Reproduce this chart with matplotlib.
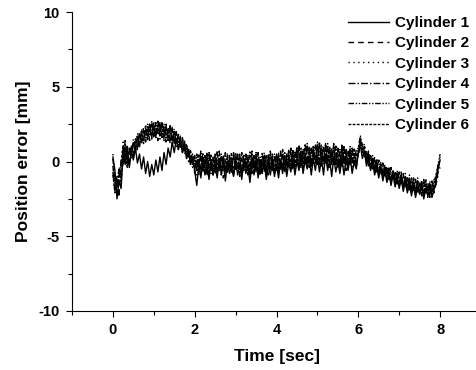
import numpy as np
import matplotlib
matplotlib.use('Agg')
import matplotlib.pyplot as plt
from matplotlib.ticker import MultipleLocator

plt.rcParams['font.family'] = 'Liberation Sans'
plt.rcParams['font.weight'] = 'bold'
plt.rcParams['axes.unicode_minus'] = False

cyl1 = [0.3, -0.6, -2.5, -1.3, -1.8, 0.6, -0.2, 0.9, -0.4, 0.7, 0.1, 0.9, -0.1, 0.5, -0.5, 0.3, -0.8, 0.0, -1.0, -0.2,
        -0.9, 0.1, -0.7, 0.3, -0.6, 0.6, -0.2, 0.9, 0.3, 1.3, 0.6, 1.5, 0.8, 1.4, 0.6, 1.1, 0.2, 0.7, -0.2, 0.2,
        -0.6, -1.6, -0.3, -1.1, 0.0, -0.9, -0.2, -1.2, 0.1, -0.8, -0.3, -1.1, 0.2, -0.9, -0.1, -1.3, 0.0, -0.8, -0.4, -1.0,
        0.1, -0.9, -0.2, -1.2, 0.0, -0.8, -0.3, -1.4, -0.1, -0.9, 0.2, -1.1, -0.2, -0.8, 0.0, -1.2, -0.3, -0.9, 0.1, -1.0,
        -0.2, -1.1, 0.0, -0.8, 0.2, -1.0, -0.1, -0.7, 0.3, -0.9, 0.0, -0.6, 0.4, -0.8, 0.1, -0.5, 0.3, -0.9, 0.2, -0.6,
        0.4, -0.7, 0.2, -0.9, 0.5, -0.6, 0.1, -1.0, 0.3, -0.7, 0.0, -0.8, 0.2, -0.9, 0.1, -0.6, 0.3, -0.8, 0.0, -0.5,
        0.6, 1.1, 0.2, 0.7, -0.3, 0.3, -0.6, 0.0, -0.9, -0.3, -1.1, -0.4, -1.3, -0.6, -1.4, -0.8, -1.6, -0.9, -1.7, -1.1,
        -1.8, -1.2, -2.0, -1.3, -2.1, -1.5, -2.3, -1.6, -2.4, -1.7, -2.2, -1.6, -2.5, -1.8, -2.3, -1.7, -2.4, -1.9, -1.4, -0.5,
        0.1]
cyl2 = [-0.3, -1.8, -1.0, -2.4, 0.2, -0.4, 1.4, 0.3, -0.2, 1.1, 0.4, 1.6, 0.9, 2.0, 1.2, 2.3, 1.3, 2.4, 1.4, 2.5,
        1.5, 2.6, 1.4, 2.5, 1.6, 2.4, 1.3, 2.3, 1.2, 2.2, 1.1, 2.0, 0.8, 1.7, 0.6, 1.3, 0.2, 0.8, -0.3, 0.3,
        -0.8, 0.2, -0.9, 0.5, -0.6, 0.3, -1.0, 0.4, -0.7, 0.2, -0.9, 0.6, -0.5, 0.3, -1.1, 0.1, -0.7, 0.4, -0.8, 0.5,
        -0.7, 0.3, -1.0, 0.2, -0.6, 0.5, -0.9, 0.1, -0.8, 0.4, -0.5, 0.6, -1.0, 0.2, -0.7, 0.3, -0.9, 0.5, -0.6, 0.2,
        -0.7, 0.4, -0.5, 0.6, -0.8, 0.3, -0.4, 0.8, -0.6, 0.5, -0.3, 0.9, -0.5, 0.7, -0.2, 1.1, -0.4, 0.8, -0.1, 1.0,
        -0.2, 1.2, -0.3, 0.9, -0.1, 1.1, -0.4, 0.8, -0.2, 1.0, -0.5, 0.7, -0.3, 0.9, -0.6, 0.6, -0.2, 0.8, -0.4, 0.5,
        0.3, 1.3, 0.9, 0.2, 0.8, -0.3, 0.5, -0.5, 0.3, -0.7, 0.1, -0.9, -0.1, -1.0, -0.3, -1.2, -0.4, -1.3, -0.6, -1.5,
        -0.7, -1.6, -0.8, -1.8, -1.0, -1.9, -1.1, -2.0, -1.2, -2.1, -1.3, -2.3, -1.2, -2.2, -1.4, -2.4, -1.3, -2.1, -1.5, -0.7,
        -0.4]
cyl3 = [0.5, -1.2, -2.2, -1.0, -0.3, 1.3, 0.4, -0.5, 0.9, 0.2, 1.5, 0.8, 1.9, 1.1, 2.2, 1.4, 2.5, 1.6, 2.6, 1.5,
        2.7, 1.6, 2.5, 1.5, 2.6, 1.4, 2.4, 1.3, 2.3, 1.2, 2.2, 1.0, 1.9, 0.9, 1.5, 0.5, 1.1, 0.0, 0.6, -0.4,
        0.3, -0.9, 0.4, -0.7, 0.2, -0.8, 0.5, -0.6, 0.1, -0.9, 0.4, -0.5, 0.3, -1.0, 0.2, -0.6, 0.6, -0.7, 0.1, -0.8,
        0.4, -0.6, 0.2, -0.9, 0.5, -0.5, 0.1, -0.8, 0.3, -0.7, 0.6, -0.6, 0.2, -0.9, 0.4, -0.5, 0.3, -0.7, 0.5, -0.6,
        0.3, -0.8, 0.6, -0.4, 0.2, -0.7, 0.7, -0.3, 0.5, -0.6, 0.9, -0.2, 0.6, -0.5, 1.0, -0.1, 0.7, -0.4, 1.1, 0.0,
        0.8, -0.3, 1.2, -0.1, 0.9, -0.4, 1.0, -0.2, 0.7, -0.5, 0.9, -0.3, 0.8, -0.4, 0.6, -0.2, 0.9, -0.5, 0.5, -0.1,
        0.9, 1.6, 0.7, 1.2, 0.0, 0.7, -0.4, 0.4, -0.6, 0.2, -0.8, 0.0, -0.9, -0.2, -1.1, -0.3, -1.2, -0.5, -1.4, -0.6,
        -1.5, -0.7, -1.7, -0.8, -1.8, -0.9, -2.0, -1.0, -2.1, -1.1, -2.2, -1.2, -2.3, -1.1, -2.2, -1.3, -2.4, -1.2, -1.6, -0.9,
        0.4]
cyl4 = [-0.7, -2.0, -1.3, -0.5, -1.1, 0.9, 0.0, 1.1, -0.3, 0.6, 1.3, 0.7, 1.7, 1.0, 2.1, 1.3, 2.3, 1.5, 2.5, 1.7,
        2.4, 1.6, 2.7, 1.7, 2.5, 1.5, 2.3, 1.6, 2.4, 1.3, 2.1, 1.2, 1.8, 1.0, 1.6, 0.7, 1.2, 0.3, 0.8, -0.1,
        0.4, -0.7, 0.1, -0.5, 0.6, -0.8, 0.3, -0.4, 0.5, -0.9, 0.2, -0.6, 0.7, -0.5, 0.3, -0.8, 0.4, -0.3, 0.2, -0.9,
        0.6, -0.4, 0.3, -0.7, 0.5, -0.3, 0.2, -0.9, 0.7, -0.5, 0.4, -0.8, 0.3, -0.4, 0.6, -0.7, 0.2, -0.5, 0.5, -0.8,
        0.4, -0.5, 0.7, -0.6, 0.3, -0.2, 0.8, -0.5, 0.6, -0.1, 1.0, -0.4, 0.7, 0.0, 1.2, -0.3, 0.8, -0.1, 1.0, -0.2,
        1.3, 0.0, 0.9, -0.2, 1.1, 0.1, 0.8, -0.3, 1.2, -0.1, 0.9, -0.4, 1.0, -0.2, 0.7, -0.3, 1.0, -0.1, 0.6, -0.4,
        0.5, 1.4, 0.8, 1.0, 0.1, 0.5, -0.3, 0.3, -0.5, 0.0, -0.7, -0.2, -0.8, -0.4, -1.0, -0.5, -1.2, -0.7, -1.3, -0.8,
        -1.4, -0.9, -1.6, -1.0, -1.7, -1.2, -1.9, -1.1, -2.0, -1.3, -2.1, -1.4, -2.2, -1.5, -2.1, -1.4, -2.3, -1.6, -1.1, -0.4,
        0.2]
cyl5 = [0.2, -1.5, -2.0, -0.7, -1.4, 0.4, 1.2, -0.1, 0.5, 1.0, 0.3, 1.5, 0.8, 1.8, 1.3, 2.1, 1.5, 2.5, 1.8, 2.7,
        1.7, 2.5, 1.8, 2.6, 1.6, 2.5, 1.5, 2.2, 1.4, 2.3, 1.2, 2.0, 1.1, 1.6, 0.8, 1.4, 0.4, 0.9, 0.1, 0.5,
        -0.5, 0.5, -0.4, 0.7, -0.7, 0.4, -0.3, 0.6, -0.8, 0.3, -0.4, 0.7, -0.6, 0.5, -0.2, 0.6, -0.7, 0.3, -0.5, 0.6,
        -0.4, 0.5, -0.8, 0.6, -0.3, 0.4, -0.6, 0.7, -0.2, 0.3, -0.7, 0.5, -0.4, 0.6, -0.5, 0.4, -0.3, 0.7, -0.6, 0.5,
        -0.2, 0.6, -0.5, 0.8, -0.3, 0.5, -0.1, 0.9, -0.4, 0.7, 0.0, 1.1, -0.2, 0.8, 0.1, 1.2, -0.1, 0.9, 0.2, 1.1,
        0.0, 1.3, 0.2, 1.0, -0.1, 1.2, 0.1, 0.9, -0.2, 1.1, 0.0, 0.8, -0.3, 1.0, 0.1, 0.7, -0.1, 0.9, -0.2, 0.8,
        0.9, 1.7, 1.1, 0.5, 0.6, 0.0, 0.4, -0.2, 0.2, -0.4, 0.0, -0.6, -0.2, -0.7, -0.4, -0.9, -0.5, -1.0, -0.7, -1.2,
        -0.8, -1.3, -1.0, -1.5, -1.1, -1.6, -1.3, -1.8, -1.4, -1.9, -1.5, -2.0, -1.4, -2.1, -1.6, -2.2, -1.5, -1.9, -1.2, -0.2,
        0.5]
cyl6 = [-0.9, -2.1, -1.6, -0.8, -0.1, 1.1, 0.6, -0.3, 0.8, 0.4, 1.2, 0.6, 1.6, 1.0, 1.9, 1.2, 2.2, 1.4, 2.4, 1.6,
        2.5, 1.7, 2.4, 1.8, 2.6, 1.6, 2.5, 1.4, 2.2, 1.5, 1.9, 1.3, 1.7, 1.0, 1.3, 0.8, 0.9, 0.3, 0.4, -0.2,
        0.1, -0.6, 0.5, -0.9, 0.2, -0.4, 0.6, -0.8, 0.0, -0.5, 0.5, -0.9, 0.1, -0.6, 0.4, -0.7, 0.2, -0.5, 0.6, -0.8,
        0.2, -0.5, 0.5, -0.8, 0.0, -0.6, 0.4, -0.9, 0.2, -0.4, 0.5, -0.7, 0.1, -0.6, 0.3, -0.8, 0.5, -0.4, 0.2, -0.7,
        0.5, -0.6, 0.1, -0.3, 0.6, -0.7, 0.4, -0.2, 0.8, -0.5, 0.5, -0.3, 0.9, -0.4, 0.6, -0.2, 1.0, -0.3, 0.7, 0.1,
        1.1, -0.2, 0.8, 0.0, 1.2, -0.3, 0.9, 0.1, 1.0, -0.2, 0.7, -0.4, 1.1, -0.1, 0.8, -0.3, 0.6, 0.0, 0.9, -0.2,
        0.7, 1.5, 0.6, 0.9, -0.1, 0.6, -0.5, 0.2, -0.7, 0.1, -0.9, -0.1, -1.0, -0.3, -1.2, -0.4, -1.3, -0.6, -1.5, -0.7,
        -1.6, -0.8, -1.7, -1.0, -1.9, -1.1, -2.0, -1.2, -2.2, -1.3, -2.1, -1.4, -2.3, -1.3, -2.4, -1.5, -2.2, -1.4, -0.9, -0.3,
        -0.2]

series = [cyl1, cyl2, cyl3, cyl4, cyl5, cyl6]
labels = ['Cylinder 1', 'Cylinder 2', 'Cylinder 3', 'Cylinder 4', 'Cylinder 5', 'Cylinder 6']
styles = ['-', (0, (4, 3)), (0, (1, 2.5)), (0, (5, 1.5, 1, 1.5)),
          (0, (4, 1.2, 1, 1.2, 1, 1.2)), (0, (2, 1))]

fig = plt.figure(figsize=(4.76, 3.70), dpi=100)
ax = fig.add_axes([72 / 476, 59 / 370, 409 / 476, 299 / 370])

for y, lab, ls in zip(series, labels, styles):
    t = np.linspace(0, 8, len(y))
    ax.plot(t, y, color='black', linestyle=ls, linewidth=1.0, label=lab)

ax.set_xlim(-1, 9)
ax.set_ylim(-10, 10)
ax.xaxis.set_major_locator(MultipleLocator(2))
ax.xaxis.set_minor_locator(MultipleLocator(1))
ax.yaxis.set_major_locator(MultipleLocator(5))
ax.yaxis.set_minor_locator(MultipleLocator(2.5))
ax.spines['top'].set_visible(False)
ax.spines['right'].set_visible(False)
for s in ['left', 'bottom']:
    ax.spines[s].set_linewidth(0.8)
ax.tick_params(which='major', direction='out', length=4, width=0.8, labelsize=10.5, pad=5)
ax.tick_params(which='minor', direction='out', length=3, width=0.8)
for lbl in ax.get_xticklabels() + ax.get_yticklabels():
    lbl.set_fontweight('bold')

ax.set_xlabel('Time [sec]', fontsize=12.5, fontweight='bold', labelpad=8)
ax.set_ylabel('Position error [mm]', fontsize=12.5, fontweight='bold', labelpad=5)

leg = ax.legend(loc='upper left', bbox_to_anchor=(348 / 476, 1 - 16 / 370),
                bbox_transform=fig.transFigure, frameon=False, fontsize=11,
                handlelength=2.7, handletextpad=0.4, labelspacing=0.42,
                borderpad=0, borderaxespad=0)
for txt in leg.get_texts():
    txt.set_fontweight('bold')

plt.savefig('out.png', dpi=100)
plt.close()
